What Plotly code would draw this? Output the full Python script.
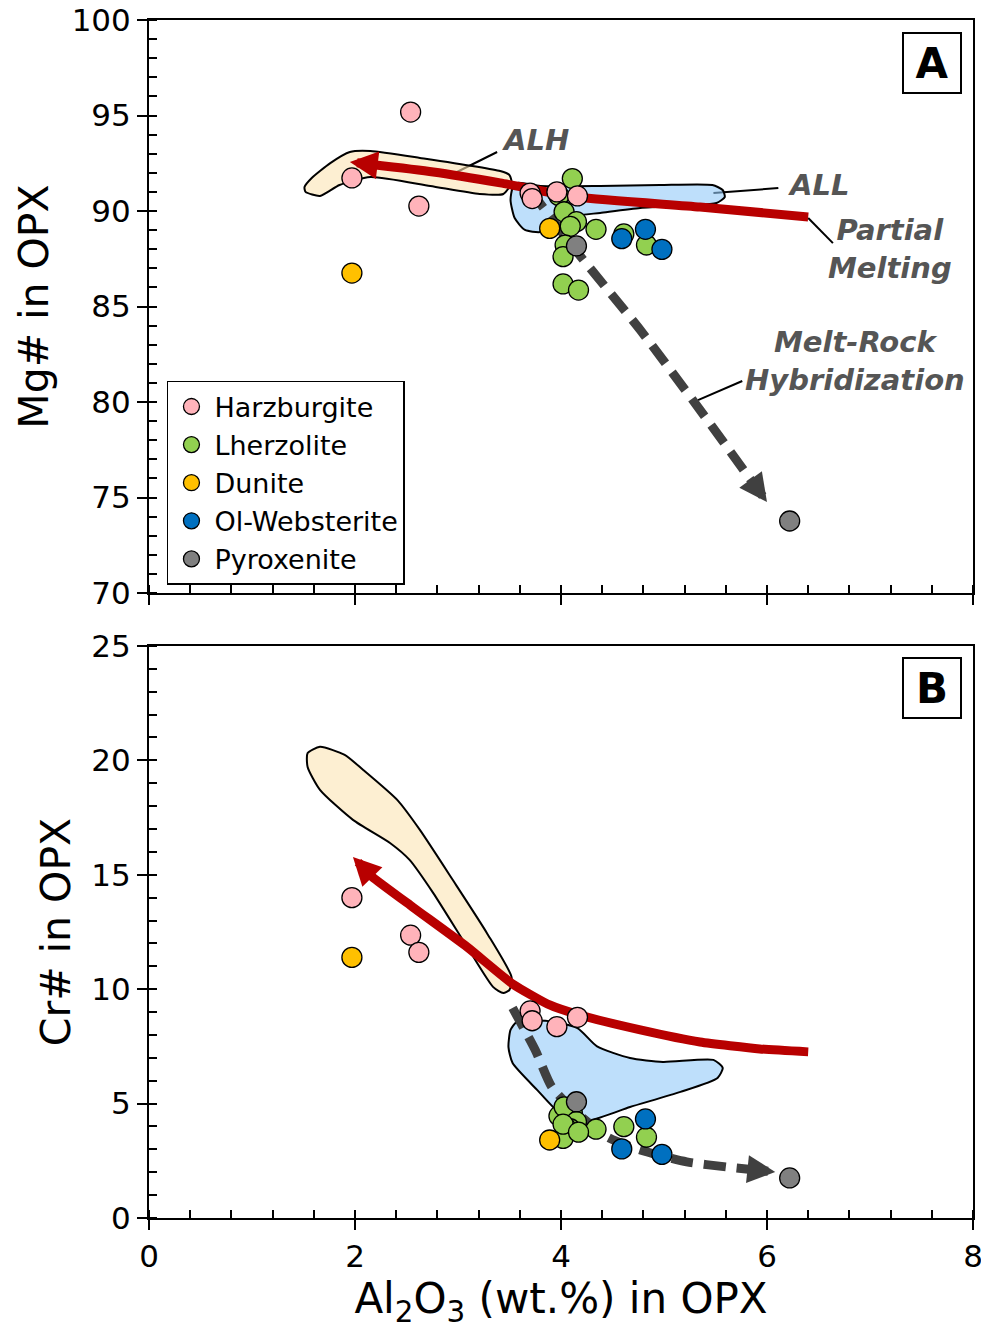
import plotly.graph_objects as go

# ---------------- data ----------------
harz_al = [1.97, 2.54, 2.62, 3.70, 3.72, 3.96, 4.16]
harz_mg = [91.73, 95.18, 90.26, 90.94, 90.65, 91.00, 90.79]
harz_cr = [14.00, 12.36, 11.61, 9.05, 8.62, 8.36, 8.77]

lher_al = [4.11, 3.98, 4.03, 4.15, 4.09, 4.34, 4.04, 4.02, 4.02, 4.17, 4.61, 4.83]
lher_mg = [91.70, 90.80, 89.96, 89.44, 89.20, 89.04, 88.22, 87.61, 86.18, 85.86, 88.80, 88.22]
lher_cr = [4.60, 4.46, 4.86, 4.21, 3.90, 3.88, 3.99, 3.48, 4.10, 3.75, 3.99, 3.53]

dun_al = [1.97, 3.89]
dun_mg = [86.75, 89.09]
dun_cr = [11.39, 3.41]

olw_al = [4.59, 4.82, 4.98]
olw_mg = [88.55, 89.04, 87.99]
olw_cr = [3.02, 4.33, 2.78]

pyx_al = [4.15, 6.22]
pyx_mg = [88.17, 73.77]
pyx_cr = [5.08, 1.75]

# reference fields (outlines)
alh_top_x = [1.51, 1.58, 1.76, 1.95, 2.15, 2.63, 3.41, 3.50, 3.52, 3.44, 3.21, 2.73, 2.15, 1.85, 1.66, 1.52, 1.51]
alh_top_y = [91.26, 91.73, 92.51, 93.09, 93.14, 92.78, 92.09, 91.88, 91.47, 90.89, 90.89, 91.31, 91.78, 91.36, 90.79, 91.00, 91.26]
all_top_x = [3.58, 3.80, 4.38, 4.96, 5.47, 5.57, 5.59, 5.51, 5.25, 4.77, 4.38, 4.14, 3.94, 3.80, 3.65, 3.55, 3.51, 3.53, 3.58]
all_top_y = [91.47, 91.31, 91.31, 91.36, 91.36, 91.10, 90.73, 90.42, 90.31, 90.16, 89.90, 89.74, 89.27, 88.90, 89.01, 89.63, 90.58, 91.20, 91.47]

alh_bot_x = [1.54, 1.66, 1.90, 2.08, 2.41, 2.63, 2.95, 3.28, 3.52, 3.50, 3.44, 3.34, 3.09, 2.76, 2.53, 2.34, 1.98, 1.66, 1.54, 1.54]
alh_bot_y = [20.32, 20.59, 20.24, 19.58, 18.27, 16.96, 14.77, 12.46, 10.53, 9.97, 9.83, 10.10, 11.84, 14.20, 15.65, 16.39, 17.40, 18.71, 19.71, 20.32]
all_bot_x = [3.57, 3.85, 4.16, 4.35, 4.67, 4.99, 5.48, 5.57, 5.52, 5.16, 4.67, 4.28, 3.99, 3.77, 3.53, 3.49, 3.51, 3.57]
all_bot_y = [8.57, 8.62, 8.30, 7.50, 6.99, 6.82, 6.91, 6.56, 6.12, 5.51, 4.85, 4.28, 4.59, 5.59, 6.77, 7.47, 8.22, 8.57]

# trends (last point = arrow tip)
pm_top_x = [6.40, 5.35, 4.16, 3.41, 2.76, 1.95]
pm_top_y = [89.69, 90.21, 90.73, 91.47, 92.04, 92.57]
pm_bot_x = [6.40, 5.93, 5.35, 4.77, 4.18, 3.89, 3.53, 3.09, 2.56, 2.17, 1.98]
pm_bot_y = [7.26, 7.39, 7.69, 8.22, 8.87, 9.31, 10.23, 11.84, 13.59, 14.90, 15.78]
mr_top_x = [3.70, 4.14, 4.77, 5.35, 6.00]
mr_top_y = [91.10, 87.96, 83.77, 79.58, 74.76]
mr_bot_x = [3.53, 3.75, 3.91, 4.12, 4.45, 4.77, 5.22, 5.61, 6.08]
mr_bot_y = [9.18, 7.34, 5.73, 4.72, 3.54, 2.97, 2.45, 2.23, 2.01]

x_ticks = [0, 2, 4, 6, 8]
mg_ticks = [70, 75, 80, 85, 90, 95, 100]
cr_ticks = [0, 5, 10, 15, 20, 25]

# ---------------- styling ----------------
FONT = "DejaVu Sans"
RED = "#B80000"
DARK = "#404040"
LABEL = "#555555"
PX_X = 103.0          # px per x unit
PX_Y = {"y": 19.1, "y2": 22.88}

fig = go.Figure()

def field(xs, ys, color, ax):
    fig.add_trace(go.Scatter(x=xs, y=ys, mode="lines", fill="toself", fillcolor=color,
                             line=dict(color="black", width=2, shape="spline", smoothing=0.6),
                             xaxis="x" if ax == "y" else "x2", yaxis=ax,
                             showlegend=False, hoverinfo="skip"))

field(alh_top_x, alh_top_y, "rgba(252,228,180,0.6)", "y")
field(all_top_x, all_top_y, "rgba(147,202,248,0.6)", "y")
field(alh_bot_x, alh_bot_y, "rgba(252,228,180,0.6)", "y2")
field(all_bot_x, all_bot_y, "rgba(147,202,248,0.6)", "y2")

def trend(xs, ys, color, dash, ax, back_px, smooth):
    xa = "x" if ax == "y" else "x2"
    tx, ty = xs[-1], ys[-1]
    px, py = xs[-2], ys[-2]
    dpx = ((px - tx) * PX_X) ** 2 + ((py - ty) * PX_Y[ax]) ** 2
    f = min(1.0, back_px / dpx ** 0.5)
    tailx, taily = tx + (px - tx) * f, ty + (py - ty) * f
    fig.add_trace(go.Scatter(x=list(xs[:-1]) + [tailx], y=list(ys[:-1]) + [taily], mode="lines",
                             line=dict(color=color, width=9, dash=dash, shape="spline", smoothing=smooth),
                             xaxis=xa, yaxis=ax, showlegend=False, hoverinfo="skip"))
    fig.add_annotation(x=tx, y=ty, ax=tailx, ay=taily, xref=xa, yref=ax, axref=xa, ayref=ax,
                       text="", showarrow=True, arrowhead=2, arrowsize=0.62, arrowwidth=9,
                       arrowcolor=color, standoff=0)

trend(pm_top_x, pm_top_y, RED, "solid", "y", 20, 0.6)
trend(pm_bot_x, pm_bot_y, RED, "solid", "y2", 20, 0.5)
trend(mr_top_x, mr_top_y, DARK, "22px,11px", "y", 22, 0.6)
trend(mr_bot_x, mr_bot_y, DARK, "22px,11px", "y2", 22, 0.6)

groups = [
    ("Lherzolite", lher_al, lher_mg, lher_cr, "#92D050", 2),
    ("Harzburgite", harz_al, harz_mg, harz_cr, "#FFB3BA", 1),
    ("Dunite", dun_al, dun_mg, dun_cr, "#FFC000", 3),
    ("Ol-Websterite", olw_al, olw_mg, olw_cr, "#0070C0", 4),
    ("Pyroxenite", pyx_al, pyx_mg, pyx_cr, "#808080", 5),
]
for name, xs, mg, cr, col, rank in groups:
    mk = dict(size=20, color=col, line=dict(color="black", width=1.3))
    fig.add_trace(go.Scatter(x=xs, y=mg, mode="markers", marker=mk, name=name,
                             legendrank=rank, xaxis="x", yaxis="y"))
    fig.add_trace(go.Scatter(x=xs, y=cr, mode="markers", marker=mk, name=name,
                             showlegend=False, xaxis="x2", yaxis="y2"))

# ---------------- axes ----------------
TOP_DOM = [0.5217, 1.0]
BOT_DOM = [0.0, 0.4775]
common = dict(showgrid=False, zeroline=False, showline=True, linecolor="black", linewidth=2,
              mirror=True, ticks="outside", ticklen=10, tickwidth=2, tickcolor="black", automargin=False)
tickfont = dict(family=FONT, size=31, color="black")
minor_x = dict(dtick=0.4, ticks="inside", ticklen=8, tickwidth=2, tickcolor="black")
minor_y = dict(dtick=1, ticks="inside", ticklen=8, tickwidth=2, tickcolor="black")
over = dict(ticks="inside", ticklen=10, tickwidth=2, tickcolor="black", showticklabels=False,
            showgrid=False, zeroline=False, showline=False, automargin=False)

fig.update_layout(
    xaxis=dict(**common, range=[0, 8], tickvals=x_ticks, showticklabels=False, anchor="y", minor=minor_x),
    xaxis2=dict(**common, range=[0, 8], tickvals=x_ticks, anchor="y2", tickfont=tickfont, minor=minor_x,
                ticklabeloverflow="allow",
                title=dict(text="Al<sub>2</sub>O<sub>3</sub> (wt.%) in OPX",
                           font=dict(family=FONT, size=42, color="black"), standoff=4)),
    yaxis=dict(**common, range=[70, 100], tickvals=mg_ticks, domain=TOP_DOM, anchor="x", tickfont=tickfont,
               minor=minor_y,
               title=dict(text="Mg# in OPX", font=dict(family=FONT, size=41, color="black"), standoff=10)),
    yaxis2=dict(**common, range=[0, 25], tickvals=cr_ticks, domain=BOT_DOM, anchor="x2", tickfont=tickfont,
                minor=minor_y,
                title=dict(text="Cr# in OPX", font=dict(family=FONT, size=41, color="black"), standoff=8)),
    xaxis3=dict(**over, overlaying="x", anchor="y", range=[0, 8], tickvals=x_ticks),
    xaxis4=dict(**over, overlaying="x2", anchor="y2", range=[0, 8], tickvals=x_ticks),
    yaxis3=dict(**over, overlaying="y", anchor="x", range=[70, 100], tickvals=mg_ticks),
    yaxis4=dict(**over, overlaying="y2", anchor="x2", range=[0, 25], tickvals=cr_ticks),
)

# ---------------- text labels ----------------
def label(text, x, y, size=29, ref="y"):
    fig.add_annotation(x=x, y=y, xref="x" if ref == "y" else "x2", yref=ref, text=text, showarrow=False,
                       font=dict(family=FONT, size=size, color=LABEL, weight="bold", style="italic"),
                       align="center")

label("ALH", 3.75, 93.72)
label("ALL", 6.50, 91.36)
label("Partial<br>Melting", 7.19, 88.0)
label("Melt-Rock<br>Hybridization", 6.85, 82.15)

leaders = [(3.38, 93.09, 2.97, 91.99), (6.11, 91.20, 5.48, 90.94),
           (6.40, 89.63, 6.64, 88.32), (5.76, 81.10, 5.33, 80.10)]
for x0, y0, x1, y1 in leaders:
    fig.add_shape(type="line", x0=x0, y0=y0, x1=x1, y1=y1, xref="x", yref="y",
                  line=dict(color="black", width=2), layer="below")

for t, yp in [("A", 0.9641), ("B", 0.4424)]:
    fig.add_annotation(x=0.950, y=yp, xref="paper", yref="paper", xanchor="center", yanchor="middle",
                       text=t, showarrow=False,
                       font=dict(family=FONT, size=42, color="black", weight="bold"),
                       bordercolor="black", borderwidth=2, width=54, height=56, bgcolor="white")

fig.update_layout(
    width=981, height=1331, margin=dict(l=149, r=8, t=20, b=113, autoexpand=False),
    paper_bgcolor="white", plot_bgcolor="white",
    font=dict(family=FONT, color="black"),
    legend=dict(x=0.0218, y=0.6987, xanchor="left", yanchor="top", bgcolor="white",
                bordercolor="black", borderwidth=1.5, font=dict(family=FONT, size=27, color="black"),
                itemsizing="trace", itemwidth=36, tracegroupgap=0),
    showlegend=True,
)

fig.write_html("out.html")
